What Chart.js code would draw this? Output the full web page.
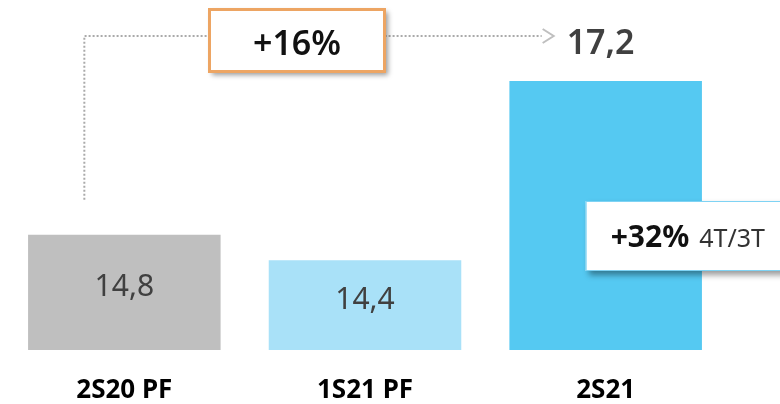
<!DOCTYPE html>
<html>
<head>
<meta charset="utf-8">
<script src="https://cdn.jsdelivr.net/npm/chart.js@4"></script>
<style>
  body { margin: 0; background: #fff; }
  canvas { display: block; }
</style>
</head>
<body>
<canvas id="grafica" width="780" height="404"></canvas>
<script>
const categorias = ['2S20 PF', '1S21 PF', '2S21'];
const valores = [14.8, 14.4, 17.2];
const colores = ['#BFBFBF', '#A9E1F8', '#55C9F2'];
const crecimientoAnual = '+16%';
const crecimientoTrim = '+32%';
const etiquetaTrim = '4T/3T';

const FONT = '"Noto Sans", "Open Sans", sans-serif';
const fmt = v => v.toFixed(1).replace('.', ',');

const anotaciones = {
    id: 'anotaciones',
    afterDatasetsDraw(chart) {
        const ctx = chart.ctx;
        const bars = chart.getDatasetMeta(0).data;
        const bottom = chart.chartArea.bottom;
        const b0 = bars[0], b2 = bars[2];

        // valores dentro de las dos primeras barras
        ctx.save();
        ctx.font = '30px ' + FONT;
        ctx.fillStyle = '#404040';
        ctx.textAlign = 'center';
        ctx.textBaseline = 'alphabetic';
        [0, 1].forEach(i => {
            const b = bars[i];
            ctx.fillText(fmt(valores[i]), b.x, (b.y + bottom) / 2 + 4);
        });
        ctx.restore();

        // linea punteada
        const lineY = 36;
        const lx = b0.x - 40;
        const arrowX = b2.x - 52;
        ctx.save();
        ctx.strokeStyle = '#AAAAAA';
        ctx.lineWidth = 2;
        ctx.setLineDash([2, 2]);
        ctx.beginPath();
        ctx.moveTo(lx, b0.y - 35);
        ctx.lineTo(lx, lineY);
        ctx.lineTo(arrowX - 12, lineY);
        ctx.stroke();
        ctx.setLineDash([]);
        ctx.strokeStyle = '#BFBFBF';
        ctx.beginPath();
        ctx.moveTo(arrowX - 11, lineY - 7);
        ctx.lineTo(arrowX, lineY);
        ctx.lineTo(arrowX - 11, lineY + 7);
        ctx.stroke();
        ctx.restore();

        // caja +16%
        ctx.save();
        ctx.shadowColor = 'rgba(0,0,0,0.4)';
        ctx.shadowBlur = 5;
        ctx.shadowOffsetX = 3;
        ctx.shadowOffsetY = 3;
        ctx.fillStyle = '#fff';
        ctx.fillRect(209, 9, 176, 63);
        ctx.restore();
        ctx.save();
        ctx.strokeStyle = '#EDA563';
        ctx.lineWidth = 3;
        ctx.strokeRect(209.5, 9.5, 175, 62);
        ctx.font = '600 34px ' + FONT;
        ctx.fillStyle = '#111';
        ctx.textAlign = 'center';
        ctx.textBaseline = 'alphabetic';
        ctx.fillText(crecimientoAnual, 297, 55);
        ctx.restore();

        // valor sobre la tercera barra
        ctx.save();
        ctx.font = '600 34px ' + FONT;
        ctx.fillStyle = '#404040';
        ctx.textAlign = 'left';
        ctx.textBaseline = 'alphabetic';
        ctx.fillText(fmt(valores[2]), arrowX + 13, 54);
        ctx.restore();

        // caja +32%
        const bx = b2.x - 20, by = 201;
        ctx.save();
        ctx.shadowColor = 'rgba(0,0,0,0.4)';
        ctx.shadowBlur = 6;
        ctx.shadowOffsetX = 3;
        ctx.shadowOffsetY = 4;
        ctx.fillStyle = '#fff';
        ctx.fillRect(bx, by, 220, 70);
        ctx.restore();
        ctx.save();
        ctx.strokeStyle = '#7FD3F4';
        ctx.lineWidth = 1;
        ctx.strokeRect(bx + 0.5, by + 0.5, 220, 69);
        ctx.textBaseline = 'alphabetic';
        ctx.textAlign = 'left';
        ctx.font = 'bold 30px ' + FONT;
        ctx.fillStyle = '#111';
        ctx.fillText(crecimientoTrim, bx + 25, by + 46);
        const w = ctx.measureText(crecimientoTrim).width;
        ctx.font = '25px ' + FONT;
        ctx.fillStyle = '#333';
        ctx.fillText(etiquetaTrim, bx + 25 + w + 10, by + 46);
        ctx.restore();
    }
};

new Chart(document.getElementById('grafica').getContext('2d'), {
    type: 'bar',
    data: {
        labels: categorias,
        datasets: [{
            data: valores,
            backgroundColor: colores,
            borderWidth: 0,
            categoryPercentage: 0.8,
            barPercentage: 1
        }]
    },
    options: {
        responsive: false,
        animation: false,
        layout: { padding: { left: 4, right: 54, top: 10, bottom: 0 } },
        plugins: {
            legend: { display: false },
            tooltip: { enabled: false }
        },
        scales: {
            y: {
                display: false,
                min: 13,
                max: 18.31
            },
            x: {
                grid: { display: false, drawTicks: false },
                border: { display: false },
                afterFit: scale => { scale.height = 54; },
                ticks: {
                    padding: 25,
                    color: '#000',
                    font: { family: FONT, size: 26, weight: 'bold' }
                }
            }
        }
    },
    plugins: [anotaciones]
});
</script>
</body>
</html>
